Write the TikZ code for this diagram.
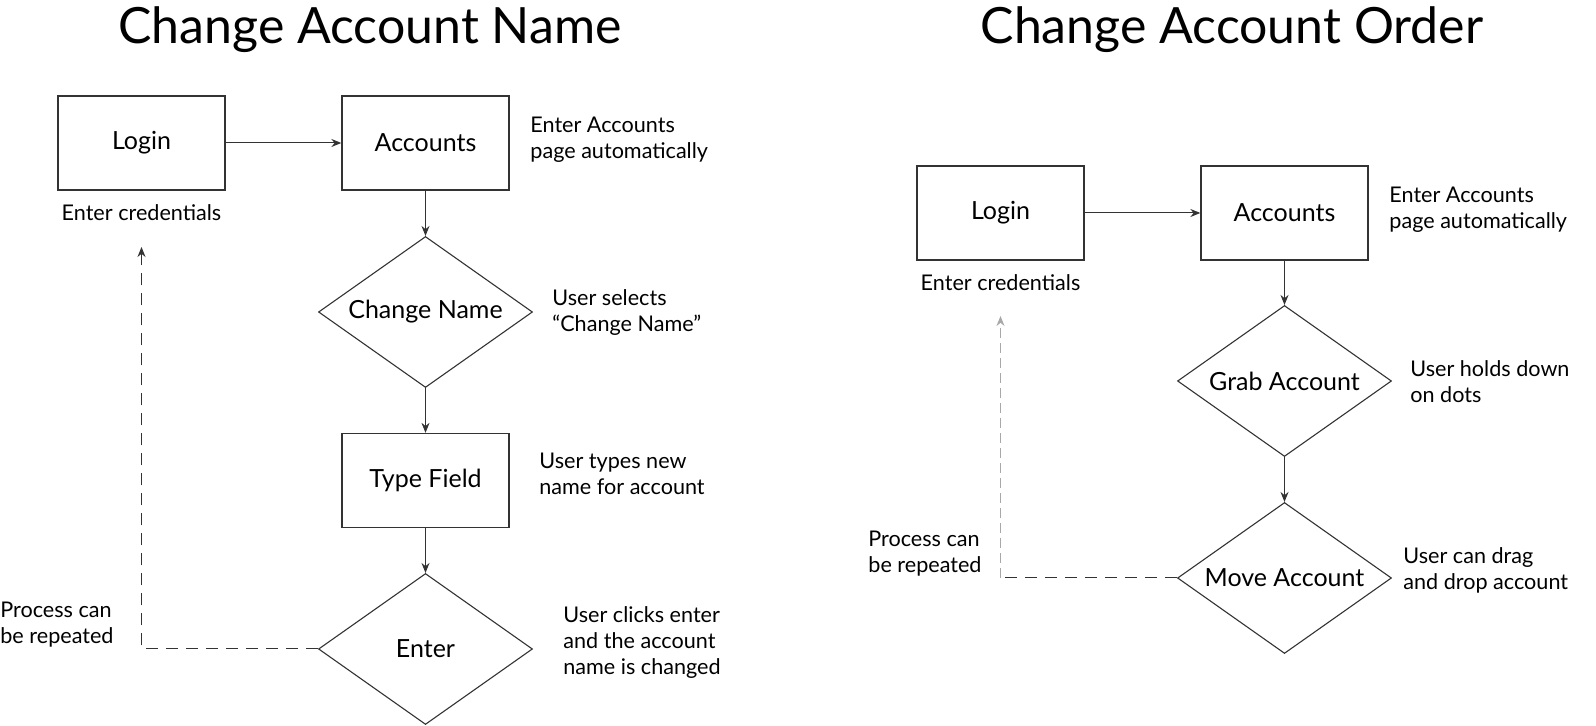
\documentclass[tikz,border=0pt]{standalone}
\usepackage{fontspec}
\setmainfont{Lato}
\usetikzlibrary{positioning,shapes.geometric,arrows.meta}
\definecolor{flowline}{HTML}{333333}
\definecolor{flowgrey}{HTML}{A8A8A8}

\begin{document}
\begin{tikzpicture}[
  x=0.5pt, y=-0.5pt,
  stepbox/.style={draw=flowline, line width=0.65pt, minimum width=83.5pt, minimum height=47pt,
    inner sep=0pt, font=\fontsize{12.5}{15}\selectfont},
  choice/.style={diamond, draw=flowline, line width=0.55pt, aspect=1.42, minimum width=107pt,
    minimum height=75.5pt, inner sep=0pt, font=\fontsize{12.5}{15}\selectfont},
  note/.style={anchor=west, align=left, inner sep=0pt, font=\fontsize{10.8}{13}\selectfont},
  heading/.style={inner sep=0pt, font=\fontsize{25}{30}\selectfont},
  flow/.style={draw=flowline, line width=0.5pt, -{Stealth[length=5pt,width=4pt]}},
  repeat/.style={draw=flowline, line width=0.5pt, dash pattern=on 6pt off 4pt},
  repeatgrey/.style={draw=flowgrey, line width=0.5pt, dash pattern=on 5pt off 2.5pt},
]
\useasboundingbox (0,0) rectangle (1596,726);

% ============ LEFT: change account name ============
\node[heading] (titleA) at (370,30) {Change Account Name};

\node[stepbox] (loginA) at (141.5,143) {Login};
\node[stepbox] (accA) at (425.5,143) {Accounts};
\node[choice] (cname) at (425.5,312) {Change Name};
\node[stepbox] (typeA) at (425.5,480.5) {Type Field};
\node[choice] (enterA) at (425.5,649) {Enter};

\node[note, anchor=center] (credA) at (141.5,213) {Enter credentials};
\node[note] (noteAccA) at (530,140) {Enter Accounts\\page automatically};
\node[note] (noteCname) at (552,312.5) {User selects\\“Change Name”};
\node[note] (noteType) at (539,473.5) {User types new\\name for account};
\node[note] (noteEnter) at (563,643) {User clicks enter\\and the account\\name is changed};
\node[note] (processA) at (0,625) {Process can\\be repeated};

\draw[flow] (loginA) -- (accA);
\draw[flow] (accA) -- (cname);
\draw[flow] (cname) -- (typeA);
\draw[flow] (typeA) -- (enterA);

% loop back to login
\coordinate (retA) at (141.5,247);
\draw[repeat, -{Stealth[length=5pt,width=4pt]}] (enterA.west) -| (retA);

% ============ RIGHT: change account order ============
\node[heading] (titleB) at (1232,30) {Change Account Order};

\node[stepbox] (loginB) at (1000.5,213) {Login};
\node[stepbox] (accB) at (1284.5,213) {Accounts};
\node[choice] (grab) at (1284.5,381) {Grab Account};
\node[choice] (move) at (1284.5,578) {Move Account};

\node[note, anchor=center] (credB) at (1000.5,283) {Enter credentials};
\node[note] (noteAccB) at (1389,210) {Enter Accounts\\page automatically};
\node[note] (noteGrab) at (1410,382) {User holds down\\on dots};
\node[note] (noteMove) at (1403,570) {User can drag\\and drop account};
\node[note] (processB) at (868,554) {Process can\\be repeated};

\draw[flow] (loginB) -- (accB);
\draw[flow] (accB) -- (grab);
\draw[flow] (grab) -- (move);

% loop back to login
\coordinate (retB) at (1000.5,316);
\coordinate (cornerB) at (move.west -| retB);
\draw[repeat] (move.west) -- (cornerB);
\draw[repeatgrey, -{Stealth[length=5pt,width=4pt]}] (cornerB) -- (retB);

\end{tikzpicture}
\end{document}
